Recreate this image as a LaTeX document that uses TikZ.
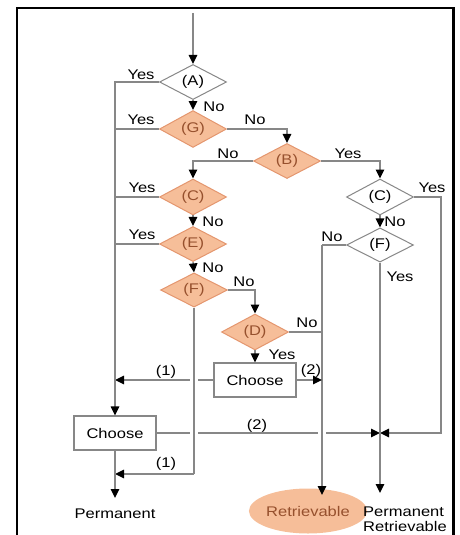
\documentclass[tikz,border=0pt]{standalone}
\usepackage{fontspec}
\setmainfont{Liberation Sans}[FakeStretch=1.18]
\usetikzlibrary{shapes.geometric,arrows.meta}
\definecolor{ln}{RGB}{135,135,135}
\definecolor{ofill}{RGB}{246,190,153}
\definecolor{oline}{RGB}{228,150,110}
\definecolor{otext}{RGB}{150,80,45}
\begin{document}
\begin{tikzpicture}[x=1pt,y=-1pt,font=\fontsize{14}{16}\selectfont,
  line/.style={draw=ln,line width=1.4pt},
  arr/.style={line,-{Triangle[length=9pt,width=8.5pt,color=black]}},
  dia/.style={diamond,draw=ln,line width=1pt,minimum width=67pt,minimum height=28pt,inner sep=0pt,fill=white},
  odia/.style={dia,fill=ofill,draw=oline,text=otext},
  box/.style={draw=ln,line width=1.3pt,minimum width=82pt,minimum height=34pt,inner sep=0pt},
  lbl/.style={inner sep=0pt},
  hop/.style={preaction={draw=white,line width=8pt,arrows=-,shorten <=8pt,shorten >=8pt}}
]
\useasboundingbox (0,0) rectangle (459,535);
% frame
\draw[line width=2.5pt] (17,560) -- (17,8) -- (453.5,8) -- (453.5,560);

% nodes
\coordinate (top) at (193,13);
\node[dia]  (A)  at (193,82)  {(A)};
\node[odia] (G)  at (193,129) {(G)};
\node[odia] (B)  at (287,161) {(B)};
\node[odia] (C1) at (193,197) {(C)};
\node[odia] (E)  at (193,244) {(E)};
\node[odia] (F1) at (194,290) {(F)};
\node[odia] (D)  at (255,332) {(D)};
\node[dia]  (C2) at (380,197) {(C)};
\node[dia]  (F2) at (380,245) {(F)};
\node[box]  (K1) at (255,380) {Choose};
\node[box]  (K2) at (115,433) {Choose};
\node[lbl]  (P)  at (115,514) {Permanent};
\node[ellipse,fill=ofill,minimum width=109pt,minimum height=45pt,inner sep=0pt,text=otext] (R) at (308,511) {Retrievable};
\node[lbl,align=left,anchor=north west,font=\fontsize{14}{15}\selectfont] (PR) at (363,507) {Permanent\\Retrievable};

\coordinate (fl)   at (322,245);
\coordinate (rtop) at (322,495);
\coordinate (f1b)  at (194,474);
\coordinate (cy)   at (441,197);
\coordinate (prt)  at (380,493);
\coordinate (pt)   at (115,498);

% crossing horizontals first
\draw[arr] (K1.west) -- (K1.west -| K2.north);
\draw[arr] (K2.east) -- (K2.east -| F2.south);

% verticals with gaps
\draw[line,hop] (F1.south) -- (f1b);
\draw[arr,hop] (fl) -- (rtop);

% other connectors
\draw[arr] (top) -- (A.north);
\draw[arr] (A.west) -- (A.west -| K2.north) -- (K2.north);
\draw[line] (G.west) -- (G.west -| K2.north);
\draw[line] (C1.west) -- (C1.west -| K2.north);
\draw[line] (E.west) -- (E.west -| K2.north);
\draw[arr] (A.south) -- (G.north);
\draw[arr] (G.east) -| (B.north);
\draw[arr] (B.west) -| (C1.north);
\draw[arr] (B.east) -| (C2.north);
\draw[arr] (C1.south) -- (E.north);
\draw[arr] (E.south) -- (F1.north);
\draw[arr] (F1.east) -| (D.north);
\draw[arr] (f1b) -- (f1b -| K2.south);
\draw[line] (D.east) -- (D.east -| fl);
\draw[line] (F2.west) -- (fl);
\draw[arr] (D.south) -- (K1.north);
\draw[arr] (K1.east) -- (K1.east -| fl);
\draw[arr] (C2.south) -- (F2.north);
\draw[arr] (C2.east) -- (cy) -- (cy |- K2.east) -- (K2.east -| F2.south);
\draw[arr] (F2.south) -- (prt);
\draw[arr] (K2.south) -- (pt);

% labels
\node[lbl] at (141,75)  {Yes};
\node[lbl] at (214,107) {No};
\node[lbl] at (141,120) {Yes};
\node[lbl] at (255,120) {No};
\node[lbl] at (228,154) {No};
\node[lbl] at (348,154) {Yes};
\node[lbl] at (142,188) {Yes};
\node[lbl] at (213,222) {No};
\node[lbl] at (142,235) {Yes};
\node[lbl] at (213,268) {No};
\node[lbl] at (244,282) {No};
\node[lbl] at (307,323) {No};
\node[lbl] at (432,188) {Yes};
\node[lbl] at (395,222) {No};
\node[lbl] at (332,237) {No};
\node[lbl] at (400,277) {Yes};
\node[lbl] at (282,355) {Yes};
\node[lbl] at (166,372) {(1)};
\node[lbl] at (311,371) {(2)};
\node[lbl] at (257,426) {(2)};
\node[lbl] at (166,464) {(1)};
\end{tikzpicture}
\end{document}
